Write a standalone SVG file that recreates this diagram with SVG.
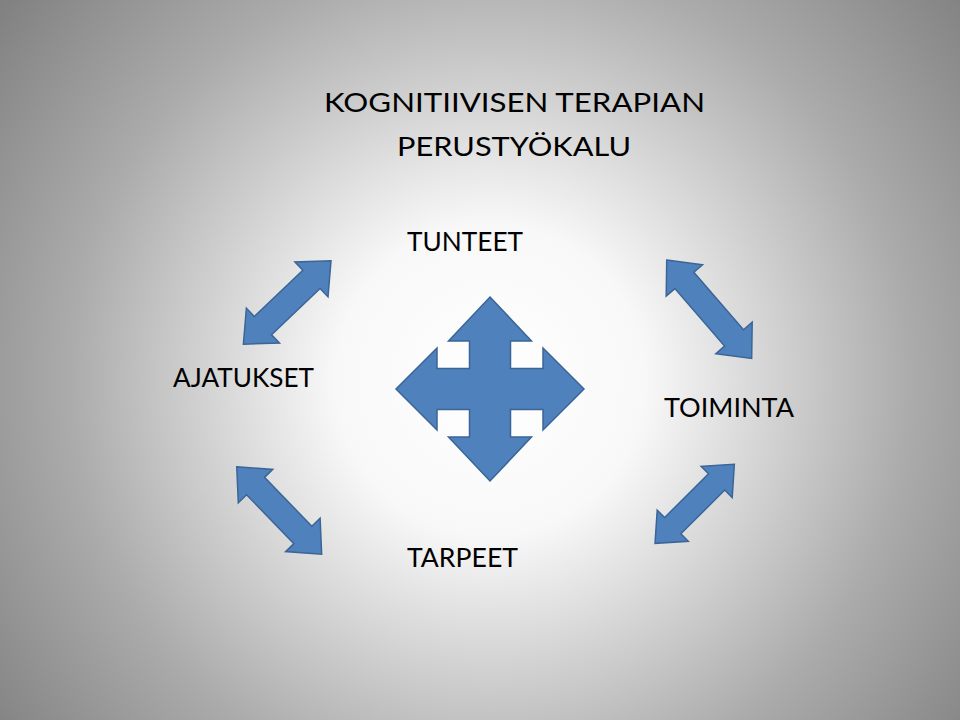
<svg xmlns="http://www.w3.org/2000/svg" width="960" height="720" viewBox="0 0 960 720">
<defs>
<radialGradient id="bg" gradientUnits="userSpaceOnUse" cx="490" cy="380" r="620">
<stop offset="0" stop-color="#ffffff"/>
<stop offset="0.25" stop-color="#f8f8f8"/>
<stop offset="0.68" stop-color="#ababab"/>
<stop offset="1" stop-color="#808080"/>
</radialGradient>
<style>
.arrow{fill:#4F81BD;stroke:#3A6596;stroke-width:1.5;stroke-linejoin:miter}
.lbl{font-family:Lato,"Liberation Sans",sans-serif;font-size:27.5px;fill:#000}
</style>
</defs>
<rect x="0" y="0" width="960" height="720" fill="url(#bg)"/>
<g id="title">
<text class="lbl" x="324" y="112" textLength="381" lengthAdjust="spacingAndGlyphs">KOGNITIIVISEN TERAPIAN</text>
<text class="lbl" x="397" y="156" textLength="234" lengthAdjust="spacingAndGlyphs">PERUSTYÖKALU</text>
</g>
<g id="node-tunteet"><text class="lbl" x="407" y="251" textLength="116" lengthAdjust="spacingAndGlyphs">TUNTEET</text></g>
<g id="node-ajatukset"><text class="lbl" x="173" y="387" textLength="141" lengthAdjust="spacingAndGlyphs">AJATUKSET</text></g>
<g id="node-toiminta"><text class="lbl" x="664" y="417" textLength="130" lengthAdjust="spacingAndGlyphs">TOIMINTA</text></g>
<g id="node-tarpeet"><text class="lbl" x="407" y="567" textLength="111" lengthAdjust="spacingAndGlyphs">TARPEET</text></g>
<g id="node-center">
<path class="arrow" d="M490,297 L531.5,341 L510.5,341 L510.5,368.5 L543,368.5 L543,348 L584,389 L543,430 L543,409.5 L510.5,409.5 L510.5,437 L531.5,437 L490,481 L448.5,437 L469.5,437 L469.5,409.5 L437,409.5 L437,430 L396,389 L437,348 L437,368.5 L469.5,368.5 L469.5,341 L448.5,341 Z"/>
</g>
<g id="connectors">
<path class="arrow" transform="translate(287.2,302.5) rotate(-43.6)" d="M-60.5,0 L-33.5,-24 L-33.5,-12.5 L33.5,-12.5 L33.5,-24 L60.5,0 L33.5,24 L33.5,12.5 L-33.5,12.5 L-33.5,24 Z"/>
<path class="arrow" transform="translate(279.2,510.5) rotate(45.9)" d="M-61,0 L-34,-24 L-34,-12.5 L34,-12.5 L34,-24 L61,0 L34,24 L34,12.5 L-34,12.5 L-34,24 Z"/>
<path class="arrow" transform="translate(709.2,309.2) rotate(49.2)" d="M-65,0 L-38,-24 L-38,-12.5 L38,-12.5 L38,-24 L65,0 L38,24 L38,12.5 L-38,12.5 L-38,24 Z"/>
<path class="arrow" transform="translate(694.7,503.8) rotate(-44.9)" d="M-56,0 L-31,-22 L-31,-11.5 L31,-11.5 L31,-22 L56,0 L31,22 L31,11.5 L-31,11.5 L-31,22 Z"/>
</g>
</svg>
